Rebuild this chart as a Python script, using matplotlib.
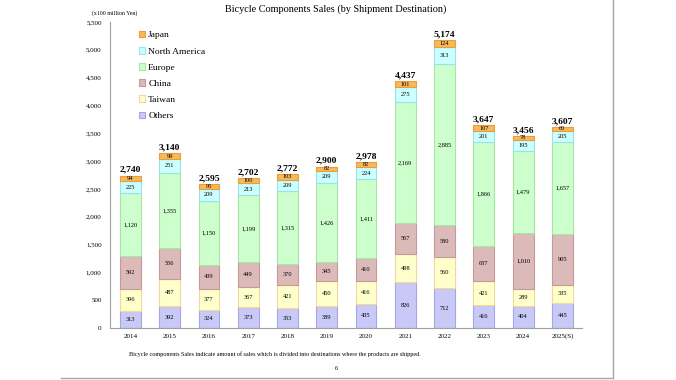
"""
Bicycle components sales by shipment destination, stacked bars.
"""

import matplotlib
matplotlib.use("Agg")
import matplotlib.pyplot as plt
from matplotlib.lines import Line2D
from matplotlib.patches import Patch

plt.rcParams["font.family"] = ["Liberation Serif", "DejaVu Serif"]

years = ["2014", "2015", "2016", "2017", "2018", "2019", "2020",
         "2021", "2022", "2023", "2024", "2025(S)"]
others  = [313, 392, 324, 373, 353, 389, 435, 826, 712, 416, 404, 445]
taiwan  = [396, 487, 377, 367, 421, 450, 416, 498, 560, 421, 289, 335]
china   = [592, 556, 439, 449, 370, 345, 410, 567, 580, 637, 1010, 905]
europe  = [1120, 1355, 1150, 1199, 1315, 1426, 1411, 2169, 2885, 1866, 1479, 1657]
n_amer  = [225, 251, 209, 213, 209, 209, 224, 275, 313, 201, 195, 205]
japan   = [94, 99, 95, 100, 103, 82, 82, 101, 124, 107, 78, 60]
totals  = [2740, 3140, 2595, 2702, 2772, 2900, 2978, 4437, 5174, 3647, 3456, 3607]

series = [
    ("Others", others, "#c9c9f7", "#a5a5ea"),
    ("Taiwan", taiwan, "#ffffcc", "#f2d99a"),
    ("China", china, "#ddbaba", "#c79a9a"),
    ("Europe", europe, "#ccffcc", "#a8e6a8"),
    ("North America", n_amer, "#ccffff", "#9ae3e8"),
    ("Japan", japan, "#f7b95a", "#e89e3a"),
]

fig = plt.figure(figsize=(6.76, 3.8), dpi=100)
ax = fig.add_axes([110 / 676, 1 - 328 / 380, 472 / 676, 306 / 380])

x = list(range(len(years)))
bottom = [0] * len(years)
for name, vals, face, edge in series:
    ax.bar(x, vals, 0.53, bottom=bottom, color=face, edgecolor=edge,
           linewidth=0.8, label=name)
    for i, v in enumerate(vals):
        ax.text(i, bottom[i] + v / 2, f"{v:,}", ha="center", va="center",
                fontsize=4.6)
    bottom = [b + v for b, v in zip(bottom, vals)]

for i, t in enumerate(totals):
    ax.text(i, bottom[i] + 30, f"{t:,}", ha="center", va="bottom",
            fontsize=6.8, fontweight="bold")

ax.set_xlim(-0.52, 11.5)
ax.set_ylim(0, 5500)
ax.set_yticks(range(0, 5501, 500))
ax.set_yticklabels([f"{v:,}" for v in range(0, 5501, 500)])
ax.set_xticks(x)
ax.set_xticklabels(years)
ax.tick_params(axis="both", length=0, labelsize=5.0)
ax.tick_params(axis="y", pad=6)
ax.tick_params(axis="x", pad=4)
for side in ("top", "right"):
    ax.spines[side].set_visible(False)
for side in ("left", "bottom"):
    ax.spines[side].set_color("#a0a0a0")
    ax.spines[side].set_linewidth(0.8)

handles = [Patch(facecolor=f, edgecolor=e, linewidth=0.8, label=n)
           for n, _, f, e in reversed(series)]
fig.legend(handles=handles, loc="upper left",
           bbox_to_anchor=(134 / 676, 1 - 26 / 380), frameon=False,
           fontsize=6.8, handlelength=0.7, handleheight=0.7,
           handletextpad=0.3, labelspacing=0.8, borderpad=0)

fig.text(336 / 676, 1 - 9 / 380,
         "Bicycle Components Sales (by Shipment Destination)",
         ha="center", va="center", fontsize=7.4)
fig.text(92 / 676, 1 - 13 / 380, "(x100 million Yen)", ha="left",
         va="center", fontsize=4.2)
fig.text(129 / 676, 1 - 354 / 380,
         "Bicycle components Sales indicate amount of sales which is divided "
         "into destinations where the products are shipped.",
         ha="left", va="center", fontsize=4.45)
fig.text(336 / 676, 1 - 369 / 380, "6", ha="center", va="center",
         fontsize=4.6)

# page frame
fig.add_artist(Line2D([613 / 676, 613 / 676], [1 - 378 / 380, 1.0],
                      transform=fig.transFigure, color="#a8a8a8", lw=1))
fig.add_artist(Line2D([61 / 676, 613 / 676], [1 - 378 / 380, 1 - 378 / 380],
                      transform=fig.transFigure, color="#a8a8a8", lw=1))

fig.savefig("out.png", dpi=100)
